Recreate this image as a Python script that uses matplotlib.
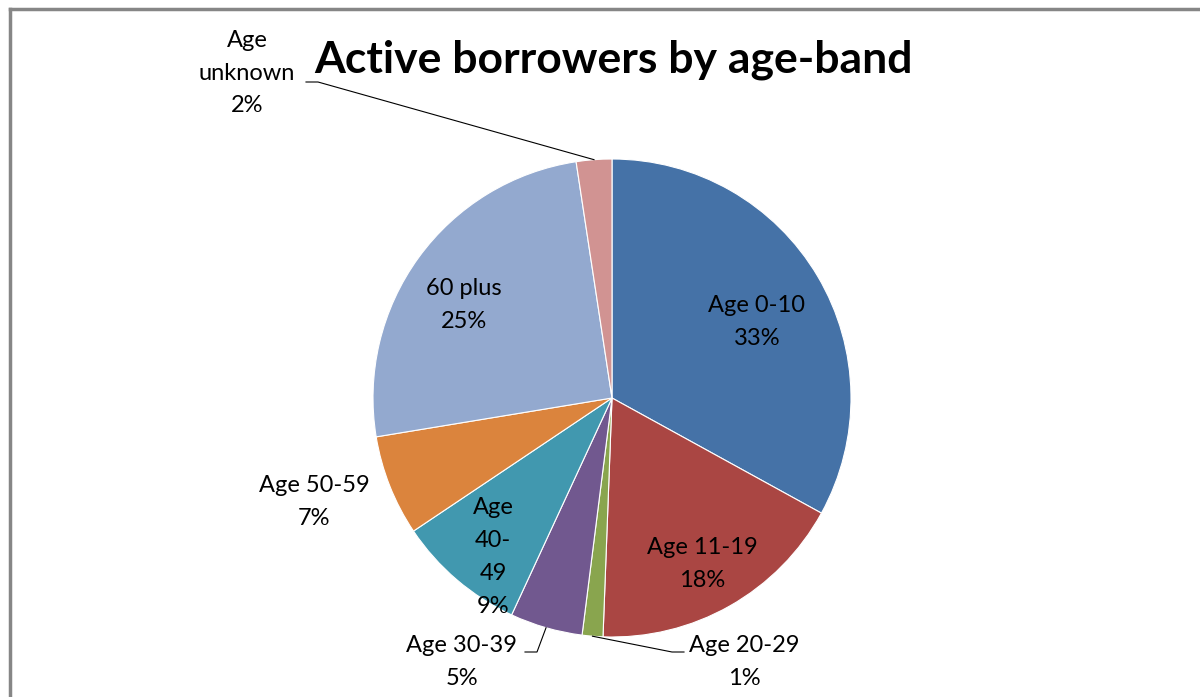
import numpy as np
import matplotlib
matplotlib.use("Agg")
import matplotlib.pyplot as plt
from matplotlib.lines import Line2D

# data (shares, labels show rounded values)
bands = ["Age 0-10", "Age 11-19", "Age 20-29", "Age 30-39",
         "Age 40-49", "Age 50-59", "60 plus", "Age unknown"]
shares = [33.0, 17.6, 1.4, 4.9, 8.7, 6.8, 25.2, 2.4]
colours = ["#4572A7", "#AA4643", "#89A54E", "#71588F",
           "#4198AF", "#DB843D", "#93A9CF", "#D19392"]
# label text as Excel wraps it
label_text = ["Age 0-10", "Age 11-19", "Age 20-29", "Age 30-39",
              "Age\n40-\n49", "Age 50-59", "60 plus", "Age\nunknown"]

W, H = 1200, 697
fig = plt.figure(figsize=(W / 100, H / 100), dpi=100)
plt.rcParams['font.family'] = ['Lato', 'DejaVu Sans']

# pie centre / radius in pixels
cx, cy, r = 612, 398, 239
ax = fig.add_axes([(cx - r) / W, (H - cy - r) / H, 2 * r / W, 2 * r / H])
ax.pie(shares, colors=colours, startangle=90, counterclock=False,
       wedgeprops=dict(edgecolor="white", linewidth=0.8), radius=1)
ax.set_xlim(-1, 1)
ax.set_ylim(-1, 1)
ax.set_aspect("equal")
ax.axis("off")


def px(x, y):
    # pixel -> data coords of the pie axes
    return (x - cx) / r, (cy - y) / r


# label centres (pixels)
lab_pos = [(757, 322), (702, 564), (744, 662), (462, 662),
           (493, 557), (314, 502), (464, 305), (247, 73)]
# leader line elbow and end (pixels)
leaders = {2: [(672, 652), (684, 652)],
           3: [(537, 652), (525, 652)],
           7: [(318, 82), (306, 82)]}

total = sum(shares)
cum = np.cumsum([0] + shares[:-1])
for i, (name, val) in enumerate(zip(label_text, shares)):
    x, y = px(*lab_pos[i])
    ax.text(x, y, f"{name}\n{round(val / total * 100)}%", ha="center",
            va="center", fontsize=17, linespacing=1.7, color="black")
    if i in leaders:
        mid = 90 - (cum[i] + val / 2) / total * 360
        sx, sy = np.cos(np.radians(mid)), np.sin(np.radians(mid))
        pts = [(sx, sy)] + [px(*p) for p in leaders[i]]
        ax.add_line(Line2D([p[0] for p in pts], [p[1] for p in pts],
                           color="black", lw=0.8, clip_on=False))

fig.text(613 / W, 1 - 60 / H, "Active borrowers by age-band", ha="center",
         va="center", fontsize=32, fontweight="bold")

# chart frame (only top and left visible in the crop)
fig.add_artist(Line2D([10 / W, 1], [1 - 9 / H, 1 - 9 / H], color="#868686",
                      lw=2.5, transform=fig.transFigure))
fig.add_artist(Line2D([10 / W, 10 / W], [0, 1 - 9 / H], color="#868686",
                      lw=2.5, transform=fig.transFigure))

fig.savefig("out.png", dpi=100)
